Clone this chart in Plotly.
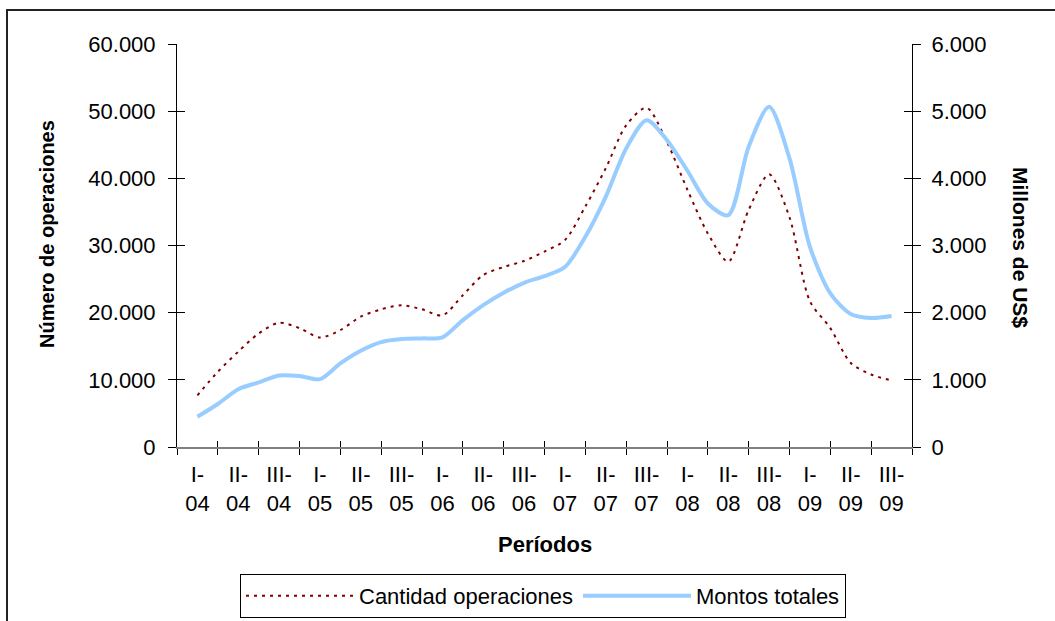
import plotly.graph_objects as go

# ---- data ----
periodos = ["I-04", "II-04", "III-04", "I-05", "II-05", "III-05",
            "I-06", "II-06", "III-06", "I-07", "II-07", "III-07",
            "I-08", "II-08", "III-08", "I-09", "II-09", "III-09"]

# readings every half period (positions 0, 0.5, 1, ... 17)
posiciones = [i / 2 for i in range(2 * len(periodos) - 1)]

cantidad_operaciones = [7700, 11200, 14200, 16900, 18500, 17700, 16300, 17400,
                        19400, 20500, 21100, 20500, 19600, 22600, 25600, 26800,
                        27700, 29100, 30800, 35800, 41500, 47900, 50500, 45400,
                        38300, 31800, 27600, 35300, 40600, 34200, 21700, 17700,
                        12500, 10800, 9900]

montos_totales = [451, 640, 860, 962, 1065, 1057, 1010, 1245,
                  1433, 1562, 1607, 1617, 1632, 1890, 2113, 2297,
                  2445, 2545, 2680, 3130, 3725, 4445, 4866, 4568,
                  4113, 3626, 3452, 4470, 5064, 4296, 2981, 2287,
                  1979, 1920, 1949]

ticks_izq = [0, 10000, 20000, 30000, 40000, 50000, 60000]
ticks_der = [0, 1000, 2000, 3000, 4000, 5000, 6000]

FONT = "Liberation Sans, Arial, sans-serif"

# ---- figure ----
W, H = 1055, 621
L, R, T, B = 177, 143, 44, 174
pw, ph = W - L - R, H - T - B


def px_x(x):
    return (x - L) / pw


def px_y(y):
    return (H - B - y) / ph


n = len(periodos)
etiquetas = [p.replace("-", "-<br>") for p in periodos]
limites = [i - 0.5 for i in range(n + 1)]
rango_x = [-0.5, n - 0.5]

fig = go.Figure()
fig.add_trace(go.Scatter(
    x=posiciones, y=cantidad_operaciones, name="Cantidad operaciones",
    mode="lines", xaxis="x", yaxis="y",
    line=dict(color="#800000", width=2, dash="3px,5px", shape="spline", smoothing=0.8),
))
fig.add_trace(go.Scatter(
    x=posiciones, y=montos_totales, name="Montos totales",
    mode="lines", xaxis="x", yaxis="y2",
    line=dict(color="#99CCFF", width=4, shape="spline", smoothing=0.8),
))
# helper traces so the overlay axes (inner halves of the crossing ticks) are drawn
fig.add_trace(go.Scatter(x=[None], y=[None], xaxis="x2", yaxis="y3",
                         showlegend=False, hoverinfo="skip"))
fig.add_trace(go.Scatter(x=[None], y=[None], xaxis="x", yaxis="y4",
                         showlegend=False, hoverinfo="skip"))

tickfont = dict(family=FONT, size=22, color="black")

fig.update_layout(
    width=W, height=H,
    margin=dict(l=L, r=R, t=T, b=B, pad=0, autoexpand=False),
    paper_bgcolor="white", plot_bgcolor="white",
    separators=",.",
    font=dict(family=FONT, color="black"),
    showlegend=True,
    legend=dict(
        orientation="h", x=px_x(543), xanchor="center", y=px_y(574), yanchor="top",
        bordercolor="black", borderwidth=1, bgcolor="white",
        font=dict(family=FONT, size=22, color="black"),
        itemwidth=108, tracegroupgap=0,
    ),
    xaxis=dict(
        range=rango_x, tickmode="array", tickvals=list(range(n)), ticktext=etiquetas,
        ticks="", showline=True, linecolor="#808080", linewidth=2,
        showgrid=False, zeroline=False, tickfont=tickfont, ticklabelstandoff=7,
        minor=dict(tickmode="array", tickvals=limites, ticks="outside",
                   ticklen=6, tickcolor="black", tickwidth=1, showgrid=False),
        anchor="y", fixedrange=True,
    ),
    xaxis2=dict(
        overlaying="x", range=rango_x, tickmode="array", tickvals=limites,
        ticks="inside", ticklen=6, tickcolor="black", tickwidth=1,
        showticklabels=False, showline=False, showgrid=False, zeroline=False,
        anchor="y", side="bottom",
    ),
    yaxis=dict(
        range=[0, 60000], tickmode="array", tickvals=ticks_izq, tickformat=",",
        ticks="outside", ticklen=8, tickcolor="black", tickwidth=1,
        showline=True, linecolor="black", linewidth=1, ticklabelstandoff=8,
        showgrid=False, zeroline=False, tickfont=tickfont, anchor="x",
    ),
    yaxis2=dict(
        range=[0, 6000], tickmode="array", tickvals=ticks_der, tickformat=",",
        overlaying="y", side="right", anchor="x", ticklabelstandoff=6,
        ticks="outside", ticklen=8, tickcolor="black", tickwidth=1,
        showline=True, linecolor="black", linewidth=1,
        showgrid=False, zeroline=False, tickfont=tickfont,
    ),
    yaxis3=dict(
        range=[0, 60000], tickmode="array", tickvals=ticks_izq,
        overlaying="y", side="left", anchor="x2",
        ticks="inside", ticklen=8, tickcolor="black", tickwidth=1,
        showticklabels=False, showline=False, showgrid=False, zeroline=False,
    ),
    yaxis4=dict(
        range=[0, 6000], tickmode="array", tickvals=ticks_der,
        overlaying="y", side="right", anchor="x",
        ticks="inside", ticklen=8, tickcolor="black", tickwidth=1,
        showticklabels=False, showline=False, showgrid=False, zeroline=False,
    ),
    annotations=[
        dict(text="<b>Número de operaciones</b>", xref="paper", yref="paper",
             x=px_x(47), y=px_y(234), xanchor="center", yanchor="middle",
             textangle=-90, showarrow=False,
             font=dict(family=FONT, size=20, color="black")),
        dict(text="<b>Millones de US$</b>", xref="paper", yref="paper",
             x=px_x(1021), y=px_y(247), xanchor="center", yanchor="middle",
             textangle=90, showarrow=False,
             font=dict(family=FONT, size=21, color="black")),
        dict(text="<b>Períodos</b>", xref="paper", yref="paper",
             x=px_x(545), y=px_y(544), xanchor="center", yanchor="middle",
             showarrow=False,
             font=dict(family=FONT, size=22, color="black")),
    ],
    shapes=[
        dict(type="rect", xref="paper", yref="paper",
             x0=px_x(7), x1=px_x(1065), y0=px_y(640), y1=px_y(10),
             line=dict(color="#222222", width=2), fillcolor="rgba(0,0,0,0)",
             layer="below"),
    ],
)

fig.write_html(
    "out.html",
    config={"displayModeBar": False},
    post_script="document.body.style.margin='0';document.body.style.overflow='hidden';",
)
